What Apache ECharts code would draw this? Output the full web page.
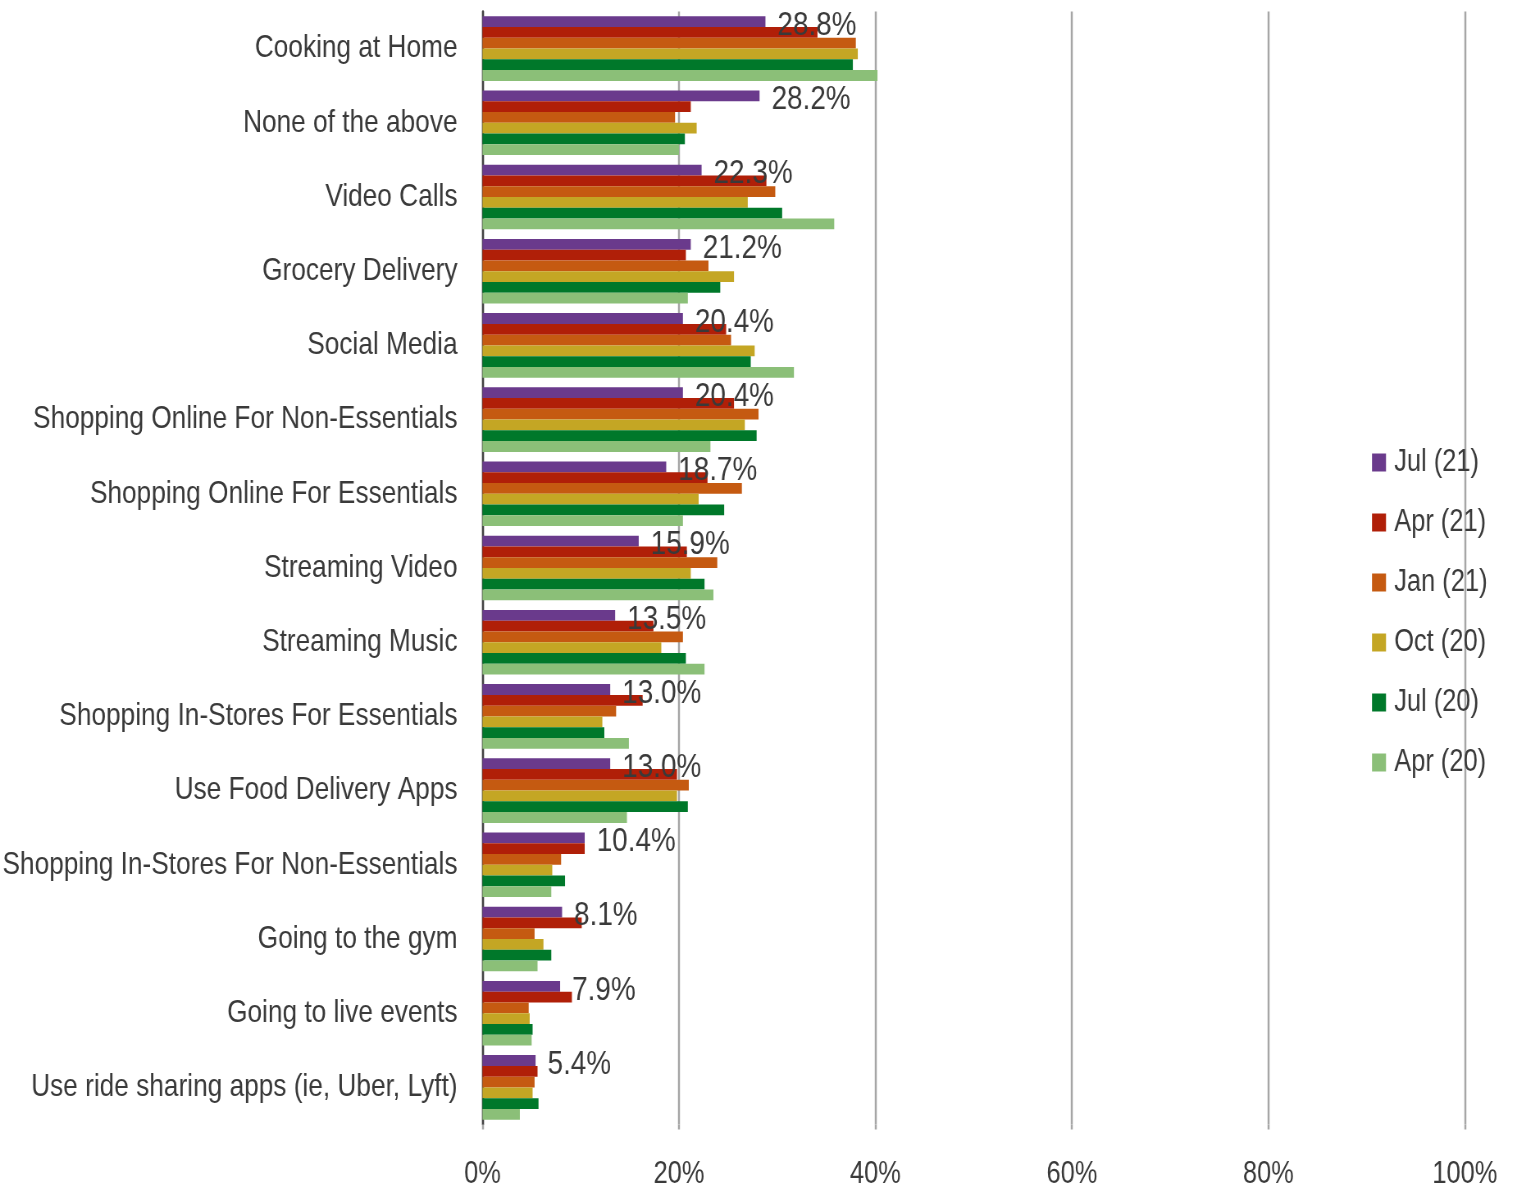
<!DOCTYPE html>
<html>
<head>
<meta charset="utf-8">
<title>Activities by survey wave</title>
<script src="https://cdn.jsdelivr.net/npm/echarts@6/dist/echarts.min.js"></script>
<style>
  html, body { margin: 0; padding: 0; background: #ffffff; overflow: hidden; }
  #frame { width: 1513px; height: 1188px; overflow: hidden; position: relative; }
  /* The chart is laid out wide and squeezed horizontally, giving narrow lettering */
  #chart { position: absolute; left: 0; top: 0; height: 1188px; transform-origin: 0 0; }
</style>
</head>
<body>
<div id="frame"><div id="chart"></div></div>
<script>
// Activities, listed top to bottom
const categories = [
  'Cooking at Home',
  'None of the above',
  'Video Calls',
  'Grocery Delivery',
  'Social Media',
  'Shopping Online For Non-Essentials',
  'Shopping Online For Essentials',
  'Streaming Video',
  'Streaming Music',
  'Shopping In-Stores For Essentials',
  'Use Food Delivery Apps',
  'Shopping In-Stores For Non-Essentials',
  'Going to the gym',
  'Going to live events',
  'Use ride sharing apps (ie, Uber, Lyft)'
];

// Share of respondents (%) per survey wave
const jul21 = [28.8, 28.2, 22.3, 21.2, 20.4, 20.4, 18.7, 15.9, 13.5, 13.0, 13.0, 10.4, 8.1, 7.9, 5.4];
const apr21 = [34.1, 21.2, 28.9, 20.7, 24.8, 25.6, 22.9, 20.8, 17.4, 16.3, 19.8, 10.4, 10.1, 9.1, 5.6];
const jan21 = [38.0, 19.6, 29.8, 23.0, 25.3, 28.1, 26.4, 23.9, 20.4, 13.6, 21.0, 8.0, 5.3, 4.7, 5.3];
const oct20 = [38.2, 21.8, 27.0, 25.6, 27.7, 26.7, 22.0, 21.2, 18.2, 12.2, 19.8, 7.1, 6.2, 4.8, 5.1];
const jul20 = [37.7, 20.6, 30.5, 24.2, 27.3, 27.9, 24.6, 22.6, 20.7, 12.4, 20.9, 8.4, 7.0, 5.1, 5.7];
const apr20 = [40.2, 20.0, 35.8, 20.9, 31.7, 23.2, 20.4, 23.5, 22.6, 14.9, 14.7, 7.0, 5.6, 5.0, 3.8];

const waveNames = ['Jul (21)', 'Apr (21)', 'Jan (21)', 'Oct (20)', 'Jul (20)', 'Apr (20)'];
const waveValues = [jul21, apr21, jan21, oct20, jul20, apr20];
const waveColors = ['#6a3a8c', '#b01f08', '#c55a11', '#c4a624', '#00782a', '#8bbf78'];

// X axis ticks (percent)
const xMin = 0;
const xMax = 100;
const xStep = 20;

// Horizontal squeeze applied to the whole drawing (narrow type face look)
const SX = 0.82;
const W = 1513, H = 1188;
const px = v => v / SX;   // screen x-distance -> pre-squeeze distance

const FONT = "'Liberation Sans', Arial, sans-serif";
const TEXT = '#3a3a3a';

const el = document.getElementById('chart');
el.style.width = px(W) + 'px';
el.style.transform = 'scaleX(' + SX + ')';

const series = waveNames.map((name, i) => ({
  name: name,
  type: 'bar',
  data: waveValues[i],
  barGap: '0%',
  barCategoryGap: '13%',
  itemStyle: { color: waveColors[i] },
  label: i === 0 ? {
    show: true,
    position: 'right',
    distance: px(12),
    offset: [0, 4],
    formatter: p => p.value.toFixed(1) + '%',
    fontFamily: FONT,
    fontSize: 34,
    color: TEXT
  } : { show: false },
  z: 2
}));

const chart = echarts.init(el, null, { renderer: 'canvas' });
chart.setOption({
  animation: false,
  backgroundColor: '#ffffff',
  textStyle: { fontFamily: FONT, color: TEXT },
  grid: {
    left: px(482.5),
    right: px(48),
    top: 11.5,
    bottom: 63.5,
    containLabel: false,
    outerBoundsMode: 'none'
  },
  legend: {
    orient: 'vertical',
    left: px(1372),
    top: 447,
    padding: 0,
    itemWidth: px(14),
    itemHeight: 18,
    itemGap: 29,
    icon: 'rect',
    data: waveNames,
    textStyle: { fontFamily: FONT, fontSize: 31, color: TEXT, padding: [0, 0, 0, 5] }
  },
  xAxis: {
    type: 'value',
    min: xMin,
    max: xMax,
    interval: xStep,
    axisLine: { show: false },
    axisTick: { show: true, length: 5, lineStyle: { color: '#a6a6a6', width: px(2) } },
    splitLine: { show: true, lineStyle: { color: '#a6a6a6', width: px(2) } },
    axisLabel: {
      formatter: '{value}%',
      fontFamily: FONT,
      fontSize: 31,
      color: TEXT,
      margin: 34
    }
  },
  yAxis: {
    type: 'category',
    data: categories,
    inverse: true,
    axisLine: { show: true, lineStyle: { color: '#404040', width: px(2) } },
    axisTick: { show: false },
    axisLabel: {
      fontFamily: FONT,
      fontSize: 32,
      color: TEXT,
      margin: px(25),
      padding: [4, 0, 0, 0]
    }
  },
  series: series
});
</script>
</body>
</html>
